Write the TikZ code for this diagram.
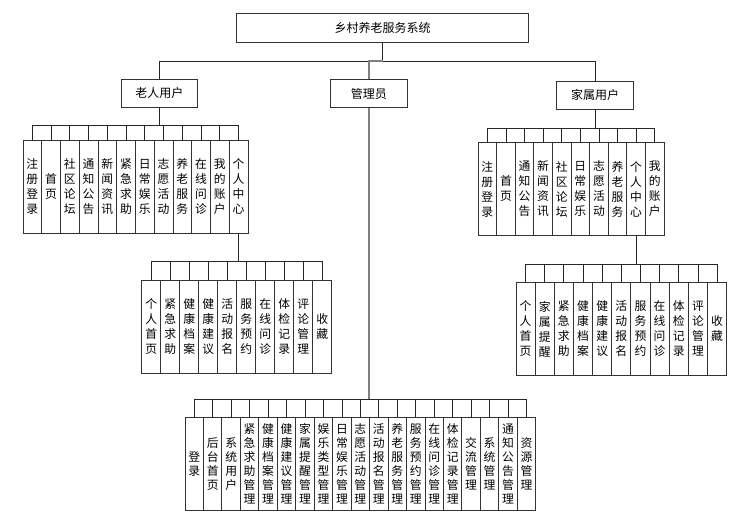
\documentclass[tikz,border=0pt]{standalone}
\usepackage{fontspec}
\setmainfont{Noto Sans CJK SC}
\begin{document}
\begin{tikzpicture}[x=1pt,y=-1pt,
	every node/.style={inner sep=0pt},
	role/.style={draw=black!80, line width=0.9pt, minimum width=76.5pt, minimum height=28.7pt, font=\fontsize{12}{14}\selectfont},
	leaf/.style={draw=black!80, line width=0.9pt, minimum height=93pt, align=center, font=\fontsize{11.8}{15}\selectfont},
	mleaf/.style={leaf, minimum height=92.3pt, font=\fontsize{11.8}{14}\selectfont},
	link/.style={draw=black!85, line width=0.8pt}]
	\fill[white] (0,0) rectangle (755,523);
	\useasboundingbox (0,0) rectangle (755,523);
	% top level
	\node[role, minimum width=291.8pt, minimum height=29pt] (root) at (382.7,27.8) {乡村养老服务系统};
	\node[role] (elder) at (159.3,93.3) {老人用户};
	\node[role] (admin) at (368.8,93.5) {管理员};
	\node[role] (family) at (595,95.3) {家属用户};
	\path (root.south) ++(0,18.4) coordinate (rbus);
	\draw[link] (root.south) -- (rbus);
	\draw[link] (rbus) -| (elder.north);
	\draw[link, draw=gray, line width=1.4pt] (rbus) -| (admin.north);
	\draw[link] (rbus) -| (family.north);
	% elder users
	\foreach \lbl [count=\i] in {注\\册\\登\\录,首\\页,社\\区\\论\\坛,通\\知\\公\\告,新\\闻\\资\\讯,紧\\急\\求\\助,日\\常\\娱\\乐,志\\愿\\活\\动,养\\老\\服\\务,在\\线\\问\\诊,我\\的\\账\\户,个\\人\\中\\心}
		\node[leaf, minimum width=18.75pt] (e\i) at ({23+18.75*(\i-0.5)},186.5) {\lbl};
	\path (elder.south |- e1.north) ++(0,-14) coordinate (ebus);
	\draw[link] (elder.south) -- (ebus);
	\foreach \i in {1,...,12} \draw[link] (ebus) -| (e\i.north);
	\foreach \lbl [count=\i] in {个\\人\\首\\页,紧\\急\\求\\助,健\\康\\档\\案,健\\康\\建\\议,活\\动\\报\\名,服\\务\\预\\约,在\\线\\问\\诊,体\\检\\记\\录,评\\论\\管\\理,收\\藏}
		\node[leaf, minimum width=19pt] (es\i) at ({141.7+19*(\i-0.5)},326.5) {\lbl};
	\path (e12.south |- es1.north) ++(0,-18) coordinate (esbus);
	\draw[link] (e12.south) -- (esbus);
	\foreach \i in {1,...,10} \draw[link] (esbus) -| (es\i.north);
	% family users
	\foreach \lbl [count=\i] in {注\\册\\登\\录,首\\页,通\\知\\公\\告,新\\闻\\资\\讯,社\\区\\论\\坛,日\\常\\娱\\乐,志\\愿\\活\\动,养\\老\\服\\务,个\\人\\中\\心,我\\的\\账\\户}
		\node[leaf, minimum width=18.6pt] (f\i) at ({478+18.6*(\i-0.5)},189) {\lbl};
	\path (family.south |- f1.north) ++(0,-14) coordinate (fbus);
	\draw[link] (family.south) -- (fbus);
	\foreach \i in {1,...,10} \draw[link] (fbus) -| (f\i.north);
	\foreach \lbl [count=\i] in {个\\人\\首\\页,家\\属\\提\\醒,紧\\急\\求\\助,健\\康\\档\\案,健\\康\\建\\议,活\\动\\报\\名,服\\务\\预\\约,在\\线\\问\\诊,体\\检\\记\\录,评\\论\\管\\理,收\\藏}
		\node[leaf, minimum width=19.15pt] (fs\i) at ({516+19.15*(\i-0.5)},329) {\lbl};
	\path (f9.south |- fs1.north) ++(0,-17.5) coordinate (fsbus);
	\draw[link] (f9.south) -- (fsbus);
	\foreach \i in {1,...,11} \draw[link] (fsbus) -| (fs\i.north);
	% administrator
	\foreach \lbl [count=\i] in {登\\录,后\\台\\首\\页,系\\统\\用\\户,紧\\急\\求\\助\\管\\理,健\\康\\档\\案\\管\\理,健\\康\\建\\议\\管\\理,家\\属\\提\\醒\\管\\理,娱\\乐\\类\\型\\管\\理,日\\常\\娱\\乐\\管\\理,志\\愿\\活\\动\\管\\理,活\\动\\报\\名\\管\\理,养\\老\\服\\务\\管\\理,服\\务\\预\\约\\管\\理,在\\线\\问\\诊\\管\\理,体\\检\\记\\录\\管\\理,交\\流\\管\\理,系\\统\\管\\理,通\\知\\公\\告\\管\\理,资\\源\\管\\理}
		\node[mleaf, minimum width=18.46pt] (a\i) at ({185+18.46*(\i-0.5)},463.85) {\lbl};
	\path (admin.south |- a1.north) ++(0,-17.7) coordinate (abus);
	\draw[link, draw=gray, line width=1.4pt] (admin.south) -- (abus);
	\foreach \i in {1,...,19} \draw[link] (abus) -| (a\i.north);
\end{tikzpicture}
\end{document}
